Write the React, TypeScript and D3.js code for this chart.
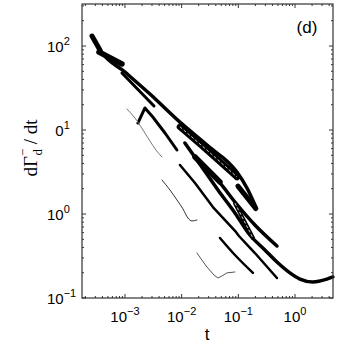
import React, { useRef, useEffect } from "react";
import * as d3 from "d3";

type Pt = [number, number];

// runs, as [t, dGamma/dt]
const runTopKink: Pt[] = [[2.62e-4, 131.5], [3.62e-4, 89.6]];
const runTopBand: Pt[] = [[3.48e-4, 84.9], [8.85e-4, 61.1]];
const runMain: Pt[] = [
  [2.62e-4, 131.5], [3.62e-4, 89.6], [1.0e-3, 49.0], [2.76e-3, 26.8], [9.33e-3, 12.4],
  [2.91e-2, 6.46], [9.45e-2, 3.16], [1.42e-1, 2.04], [2.04e-1, 1.21]
];
const runBandA: Pt[] = [[9.33e-3, 10.9], [2.91e-2, 5.62], [9.45e-2, 2.76]];
const runBandB: Pt[] = [[9.84e-2, 2.15], [2.04e-1, 1.16]];
const runBandC: Pt[] = [[1.72e-2, 4.77], [4.74e-2, 2.4]];
const runSecond: Pt[] = [
  [1.72e-2, 4.77], [2.58e-2, 3.63], [4.74e-2, 2.34], [8.71e-2, 1.39],
  [1.96e-1, 0.74], [4.8e-1, 0.416]
];
const runLong: Pt[] = [
  [1.14e-2, 7.0], [1.86e-2, 4.4], [4.37e-2, 1.93], [8.71e-2, 1.03], [1.6e-1, 0.562],
  [2.94e-1, 0.373], [4.8e-1, 0.268], [8.13e-1, 0.199], [1.22, 0.168],
  [2.07, 0.155], [3.66, 0.168], [4.66, 0.178]
];
const runSteep: Pt[] = [[8.71e-2, 1.35], [1.81e-1, 0.518]];
const runShort: Pt[] = [[8.85e-4, 47.7], [3.25e-3, 19.3]];
const runHook: Pt[] = [[1.69e-3, 12.1], [2.25e-3, 18.3], [2.99e-3, 14.7], [5.08e-3, 9.21], [8.26e-3, 5.78]];
const runStep: Pt[] = [
  [9.33e-3, 3.83], [1.72e-2, 2.34], [3.56e-2, 1.21], [9.07e-2, 0.611],
  [1.025e-1, 0.547], [1.96e-1, 0.343], [4.8e-1, 0.173]
];
const runLow: Pt[] = [[4.74e-2, 0.518], [8.71e-2, 0.325], [1.81e-1, 0.199]];
const thinA: Pt[] = [[1.08e-3, 17.8], [1.5e-3, 13.9], [2.08e-3, 10.0], [2.76e-3, 7.39], [3.52e-3, 5.78], [4.49e-3, 4.77]];
const thinB: Pt[] = [[4.49e-3, 2.54], [6.22e-3, 1.93], [8.26e-3, 1.47], [1.054e-2, 1.15], [1.29e-2, 0.896], [1.52e-2, 0.826], [1.86e-2, 0.849]];
const thinC: Pt[] = [[1.86e-2, 0.343], [2.79e-2, 0.234], [3.71e-2, 0.188], [4.37e-2, 0.173], [5.14e-2, 0.183], [6.29e-2, 0.199], [8.71e-2, 0.204]];

const xTickLabels = [["10", "−3"], ["10", "−2"], ["10", "−1"], ["10", "0"]];
const xTickValues = [1e-3, 1e-2, 1e-1, 1];
const yTickLabels = [["10", "2"], ["0", "1"], ["10", "0"], ["10", "−1"]];
const yTickValues = [100, 10, 1, 0.1];

export default function App() {
  const ref = useRef<SVGSVGElement>(null);

  useEffect(() => {
    const svg = d3.select(ref.current);
    svg.selectAll("*").remove();

    const left = 82, right = 333, top = 4, bottom = 298;
    const x = d3.scaleLog().domain([10 ** -3.758, 10 ** 0.67]).range([left, right]);
    const y = d3.scaleLog().domain([0.1, 10 ** 2.5]).range([bottom, top]);
    const smooth = d3.line<Pt>().x(d => x(d[0])).y(d => y(d[1])).curve(d3.curveMonotoneX);
    const straight = d3.line<Pt>().x(d => x(d[0])).y(d => y(d[1]));

    // curves, thick ones first
    const runs: { data: Pt[]; w: number; color: string; inner?: boolean; sharp?: boolean }[] = [
      { data: runLong, w: 3.5, color: "#000" },
      { data: runSecond, w: 3.5, color: "#000" },
      { data: runMain, w: 3.5, color: "#000" },
      { data: runTopKink, w: 5, color: "#000" },
      { data: runTopBand, w: 5.5, color: "#000" },
      { data: runBandA, w: 6.5, color: "#000", inner: true },
      { data: runBandB, w: 5, color: "#000" },
      { data: runBandC, w: 5.5, color: "#000" },
      { data: runSteep, w: 4, color: "#000", inner: true },
      { data: runShort, w: 3, color: "#000" },
      { data: runHook, w: 3, color: "#000", sharp: true },
      { data: runStep, w: 2.5, color: "#000", sharp: true },
      { data: runLow, w: 2.5, color: "#000" },
      { data: thinA, w: 1, color: "#777" },
      { data: thinB, w: 1, color: "#333" },
      { data: thinC, w: 1, color: "#555", sharp: true }
    ];

    const g = svg.append("g");
    runs.forEach(r => {
      g.append("path")
        .attr("d", (r.sharp ? straight : smooth)(r.data))
        .attr("fill", "none")
        .attr("stroke", r.color)
        .attr("stroke-width", r.w)
        .attr("stroke-linecap", "round")
        .attr("stroke-linejoin", "round");
    });
    runs.filter(r => r.inner).forEach(r => {
      g.append("path")
        .attr("d", smooth(r.data))
        .attr("fill", "none")
        .attr("stroke", "#fff")
        .attr("stroke-width", 0.8)
        .attr("stroke-dasharray", "3,2");
    });

    // frame
    svg.append("rect")
      .attr("x", left).attr("y", top)
      .attr("width", right - left).attr("height", bottom - top)
      .attr("fill", "none").attr("stroke", "#333").attr("stroke-width", 1.2);

    const isMajor = (v: number) => Math.abs(Math.log10(v) - Math.round(Math.log10(v))) < 1e-6;
    const ticks = svg.append("g").attr("stroke", "#333").attr("stroke-width", 1);
    x.ticks().forEach(v => {
      const px = x(v), len = isMajor(v) ? 4 : 2;
      ticks.append("line").attr("x1", px).attr("x2", px).attr("y1", bottom).attr("y2", bottom - len);
      ticks.append("line").attr("x1", px).attr("x2", px).attr("y1", top).attr("y2", top + len);
    });
    y.ticks().forEach(v => {
      const py = y(v), len = isMajor(v) ? 4 : 2;
      ticks.append("line").attr("x1", left).attr("x2", left + len).attr("y1", py).attr("y2", py);
      ticks.append("line").attr("x1", right).attr("x2", right - len).attr("y1", py).attr("y2", py);
    });

    const font = "'Liberation Sans', Arial, sans-serif";
    xTickValues.forEach((v, i) => {
      const t = svg.append("text")
        .attr("x", x(v)).attr("y", 322)
        .attr("text-anchor", "middle")
        .attr("font-family", font).attr("font-size", 15);
      t.append("tspan").text(xTickLabels[i][0]);
      t.append("tspan").attr("font-size", 11).attr("dy", -7).text(xTickLabels[i][1]);
    });
    yTickValues.forEach((v, i) => {
      const base = yTickLabels[i][0];
      const t = svg.append("text")
        .attr("x", base === "0" ? 55.3 : 47).attr("y", y(v) + 5.5)
        .attr("font-family", font).attr("font-size", 15);
      t.append("tspan").text(base);
      t.append("tspan").attr("font-size", 11).attr("dy", -7).text(yTickLabels[i][1]);
    });

    svg.append("text")
      .attr("x", 207).attr("y", 340)
      .attr("text-anchor", "middle")
      .attr("font-family", font).attr("font-size", 17)
      .text("t");

    svg.append("text")
      .attr("x", 307).attr("y", 33)
      .attr("text-anchor", "middle")
      .attr("font-family", font).attr("font-size", 17)
      .text("(d)");

    const yl = svg.append("text")
      .attr("transform", "translate(37,148) rotate(-90)")
      .attr("text-anchor", "middle")
      .attr("font-family", "'Liberation Serif', 'Times New Roman', serif")
      .attr("font-size", 19);
    yl.append("tspan").text("dΓ");
    yl.append("tspan").attr("font-size", 13).attr("dy", -10).text("−");
    yl.append("tspan").attr("font-size", 13).attr("dx", -7).attr("dy", 15).text("d");
    yl.append("tspan").attr("dy", -5).text(" / dt");
  }, []);

  return (
    <div style={{ position: "absolute", left: 0, top: 0 }}>
      <svg ref={ref} width={337} height={349} style={{ display: "block" }} />
    </div>
  );
}
